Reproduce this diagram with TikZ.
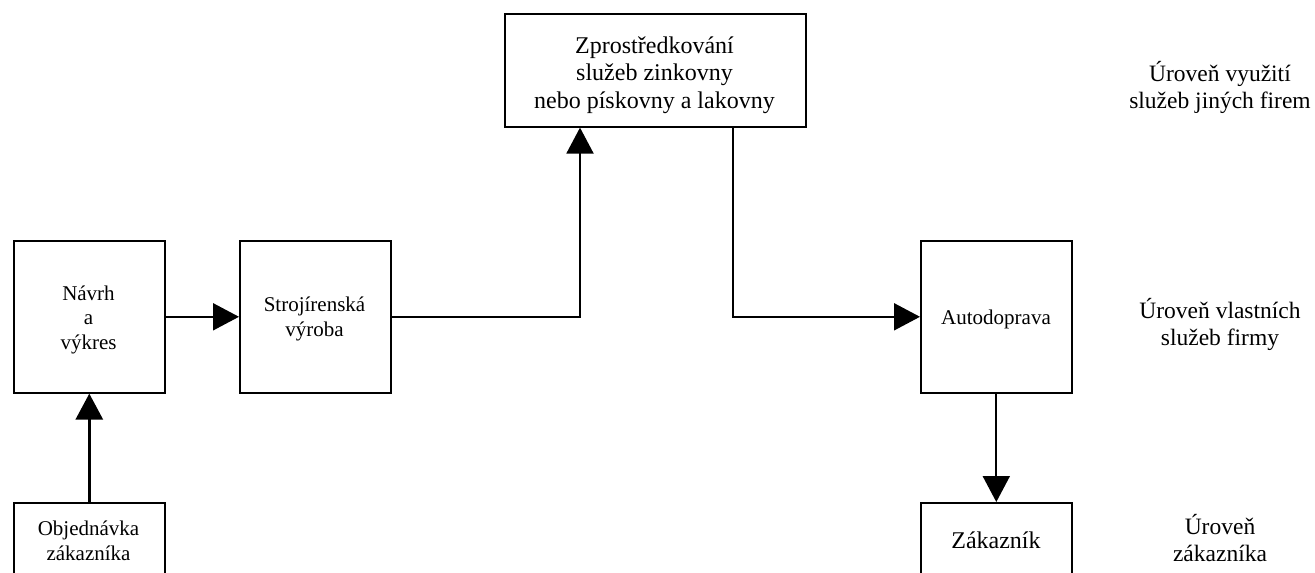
\documentclass[tikz,border=0pt]{standalone}
\usepackage{fontspec}
\setmainfont{Liberation Serif}
\usetikzlibrary{arrows.meta}

\tikzset{
  box/.style={draw, line width=1.6pt, minimum width=151pt, minimum height=152pt,
              inner sep=0pt, anchor=north west},
  smalltext/.style={font=\fontsize{21}{24.5}\selectfont, align=center, inner sep=0pt},
  bigtext/.style={font=\fontsize{24}{27.5}\selectfont, align=center, inner sep=0pt},
  leveltext/.style={font=\fontsize{23.5}{27}\selectfont, align=center, inner sep=0pt},
  conn/.style={line width=2pt, -{Triangle[length=26pt,width=27pt]}},
}

\begin{document}
\begin{tikzpicture}[x=1pt,y=-1pt]
\useasboundingbox (0,0) rectangle (1315,573);
\clip (0,0) rectangle (1315,573);

% process boxes
\node[box] (navrh) at (13,240) {};
\node[box] (stroj) at (239,240) {};
\node[box, minimum width=301pt, minimum height=113pt] (zpro) at (504,13) {};
\node[box] (auto) at (920,240) {};
\node[box] (obj) at (13,502) {};
\node[box] (zak) at (920,502) {};

% box captions
\node[smalltext] (navrhT) at (88.5,319.5) {Návrh\\a\\výkres};
\node[smalltext] (strojT) at (314.5,319) {Strojírenská\\výroba};
\node[bigtext] (zproT) at (654.5,75) {Zprostředkování\\služeb zinkovny\\nebo pískovny a lakovny};
\node[smalltext, anchor=base] (autoT) at (996,324) {Autodoprava};
\node[smalltext] (objT) at (88.5,541) {Objednávka\\zákazníka};
\node[bigtext, anchor=base] (zakT) at (996,548) {Zákazník};

% level labels
\node[leveltext] (lvl1) at (1220,87.5) {Úroveň využití\\služeb jiných firem};
\node[leveltext] (lvl2) at (1220,324) {Úroveň vlastních\\služeb firmy};
\node[leveltext] (lvl3) at (1220,538) {Úroveň\\zákazníka};

% connectors
\draw[conn, line width=3pt] (obj.north) -- (navrh.south);
\draw[conn] (navrh.east) -- (stroj.west);
\draw[conn] (stroj.east) -| ([xshift=76pt]zpro.south west);
\draw[conn] ([xshift=-74pt]zpro.south east) |- (auto.west);
\draw[conn] (auto.south) -- (zak.north);
\end{tikzpicture}
\end{document}
